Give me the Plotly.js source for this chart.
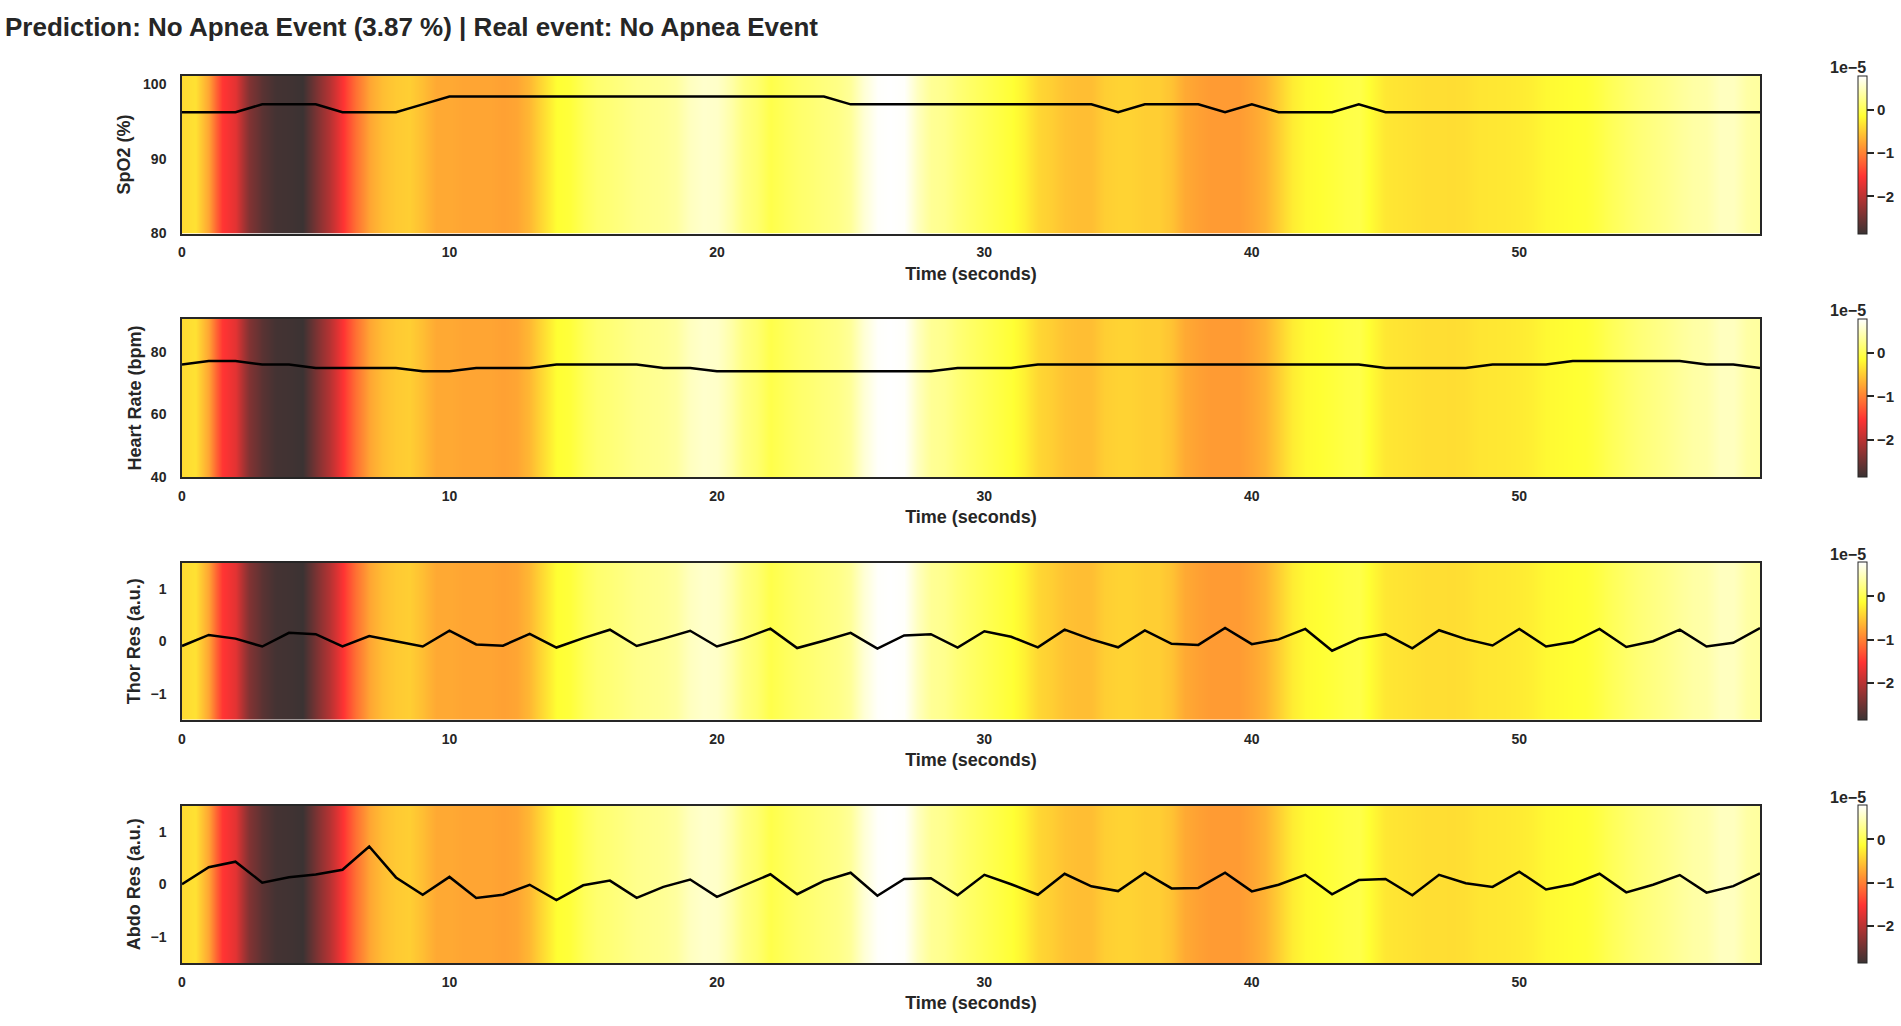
<!DOCTYPE html>
<html>
<head>
<meta charset="utf-8">
<script src="https://cdn.plot.ly/plotly-3.0.1.min.js"></script>
<style>
html, body { margin: 0; padding: 0; background: #fff; }
</style>
</head>
<body>
<div id="myDiv" style="width:1901px;height:1026px"></div>
<script>
var time = [];
for (var t = 0; t < 60; t++) { time.push(t); }

// attribution, in units of 1e-5, one value every half second
var attribution = [
    -0.38, -0.34, -0.75, -1.5, -1.72, -2.38, -2.65, -2.8, -2.82, -2.86,
    -2.45, -2.05, -1.55, -1.1, -0.75, -0.58, -0.5, -0.47, -0.58, -0.72,
    -0.72, -0.75, -0.75, -0.75, -0.78, -0.75, -0.62, -0.38, -0.14, -0.1,
    0.04, 0.13, 0.17, 0.22, 0.27, 0.29, 0.31, 0.36, 0.5, 0.56,
    0.54, 0.4, 0.22, 0.13, -0.03, 0.04, 0.11, 0.15, 0.2, 0.24,
    0.33, 0.6, 0.77, 0.79, 0.77, 0.5, 0.31, 0.27, 0.17, 0.09,
    0.02, -0.05, -0.12, -0.24, -0.41, -0.47, -0.55, -0.58, -0.58, -0.47,
    -0.44, -0.44, -0.47, -0.47, -0.55, -0.72, -0.78, -0.82, -0.82, -0.82,
    -0.75, -0.65, -0.47, -0.27, -0.17, -0.14, -0.1, -0.05, -0.03, -0.18,
    -0.3, -0.32, -0.34, -0.36, -0.36, -0.37, -0.35, -0.31, -0.3, -0.29,
    -0.27, -0.24, -0.18, -0.16, -0.14, -0.12, -0.05, 0.04, 0.11, 0.17,
    0.22, 0.27, 0.33, 0.38, 0.4, 0.5, 0.5, 0.38, 0.35
];

var spo2 = [
    96.2, 96.2, 96.2, 97.25, 97.25, 97.25, 96.2, 96.2, 96.2, 97.25,
    98.3, 98.3, 98.3, 98.3, 98.3, 98.3, 98.3, 98.3, 98.3, 98.3,
    98.3, 98.3, 98.3, 98.3, 98.3, 97.25, 97.25, 97.25, 97.25, 97.25,
    97.25, 97.25, 97.25, 97.25, 97.25, 96.2, 97.25, 97.25, 97.25, 96.2,
    97.25, 96.2, 96.2, 96.2, 97.25, 96.2, 96.2, 96.2, 96.2, 96.2,
    96.2, 96.2, 96.2, 96.2, 96.2, 96.2, 96.2, 96.2, 96.2, 96.2
];

var heartRate = [
    75.9, 77, 77, 75.9, 75.9, 74.8, 74.8, 74.8, 74.8, 73.7,
    73.7, 74.8, 74.8, 74.8, 75.9, 75.9, 75.9, 75.9, 74.8, 74.8,
    73.7, 73.7, 73.7, 73.7, 73.7, 73.7, 73.7, 73.7, 73.7, 74.8,
    74.8, 74.8, 75.9, 75.9, 75.9, 75.9, 75.9, 75.9, 75.9, 75.9,
    75.9, 75.9, 75.9, 75.9, 75.9, 74.8, 74.8, 74.8, 74.8, 75.9,
    75.9, 75.9, 77, 77, 77, 77, 77, 75.9, 75.9, 74.8
];

var thorRes = [
    -0.09, 0.12, 0.05, -0.1, 0.16, 0.135, -0.1, 0.1, 0, -0.1,
    0.2, -0.06, -0.085, 0.14, -0.12, 0.06, 0.22, -0.09, 0.05, 0.2,
    -0.1, 0.05, 0.24, -0.13, 0.01, 0.16, -0.14, 0.11, 0.135, -0.12,
    0.19, 0.085, -0.115, 0.22, 0.035, -0.115, 0.205, -0.05, -0.07, 0.255,
    -0.055, 0.035, 0.235, -0.18, 0.05, 0.135, -0.135, 0.21, 0.04, -0.08,
    0.235, -0.1, -0.015, 0.235, -0.11, 0, 0.22, -0.1, -0.03, 0.25
];

var abdoRes = [
    0, 0.325, 0.43, 0.03, 0.135, 0.185, 0.275, 0.72, 0.13, -0.2,
    0.14, -0.26, -0.2, -0.01, -0.3, -0.02, 0.07, -0.26, -0.05, 0.09,
    -0.24, -0.02, 0.19, -0.19, 0.065, 0.22, -0.22, 0.1, 0.115, -0.21,
    0.18, 0, -0.2, 0.2, -0.04, -0.13, 0.22, -0.08, -0.07, 0.22,
    -0.135, -0.01, 0.18, -0.19, 0.08, 0.1, -0.21, 0.18, 0.02, -0.05,
    0.24, -0.1, 0, 0.2, -0.155, -0.01, 0.175, -0.16, -0.035, 0.205
];

var series = [spo2, heartRate, thorRes, abdoRes];
var yTitles = ['SpO2 (%)', 'Heart Rate (bpm)', 'Thor Res (a.u.)', 'Abdo Res (a.u.)'];
var yRanges = [[80, 101.1], [40, 90.4], [-1.5, 1.5], [-1.5, 1.5]];
var yTicks = [[80, 90, 100], [40, 60, 80], [-1, 0, 1], [-1, 0, 1]];
var yTitleGaps = [8, 5, 5, 5];
var xTicks = [0, 10, 20, 30, 40, 50];
var cbTicks = [0, -1, -2];

var W = 1901, H = 1026;
var plotLeft = 182, plotRight = 1760;
var plotTops = [75.5, 319, 562.5, 805.5];
var plotBottoms = [233.5, 477, 720, 963];
var dark = '#262626';
var fontName = '"Liberation Sans", Arial, sans-serif';

// hot colormap at alpha 0.8 over white
var hotScale = [
    [0, 'rgb(59,51,51)'],
    [0.365, 'rgb(255,51,51)'],
    [0.746, 'rgb(255,255,51)'],
    [1, 'rgb(255,255,255)']
];

var data = [];
var layout = {
    width: W,
    height: H,
    margin: {l: 0, r: 0, t: 0, b: 0},
    paper_bgcolor: '#fff',
    plot_bgcolor: '#fff',
    showlegend: false,
    font: {family: fontName, color: dark},
    title: {
        text: '<b>Prediction: No Apnea Event (3.87 %) | Real event: No Apnea Event</b>',
        x: 5 / W,
        xanchor: 'left',
        y: 1 - 27 / H,
        yanchor: 'middle',
        font: {family: fontName, size: 26, color: dark}
    },
    annotations: []
};

for (var i = 0; i < series.length; i++) {
    var suffix = i === 0 ? '' : String(i + 1);

    data.push({
        type: 'heatmap',
        z: [attribution, attribution],
        x0: 0,
        dx: 0.5,
        y: yRanges[i],
        zsmooth: 'best',
        zmin: -2.86,
        zmax: 0.79,
        colorscale: hotScale,
        xaxis: 'x' + suffix,
        yaxis: 'y' + suffix,
        colorbar: {
            x: 1858 / W,
            xanchor: 'left',
            xref: 'paper',
            y: 1 - (plotTops[i] + plotBottoms[i]) / 2 / H,
            yanchor: 'middle',
            yref: 'paper',
            len: plotBottoms[i] - plotTops[i],
            lenmode: 'pixels',
            thickness: 9,
            thicknessmode: 'pixels',
            xpad: 0,
            ypad: 0,
            outlinecolor: dark,
            outlinewidth: 1,
            tickmode: 'array',
            tickvals: cbTicks,
            ticks: 'outside',
            ticklen: 7,
            tickwidth: 1.5,
            tickcolor: dark,
            tickfont: {family: fontName, size: 15, weight: 'bold', color: dark}
        }
    });

    data.push({
        type: 'scatter',
        mode: 'lines',
        x: time,
        y: series[i],
        xaxis: 'x' + suffix,
        yaxis: 'y' + suffix,
        line: {color: '#000', width: 2.5},
        hoverinfo: 'skip'
    });

    layout['xaxis' + suffix] = {
        domain: [plotLeft / W, plotRight / W],
        anchor: 'y' + suffix,
        range: [0, 59],
        tickmode: 'array',
        tickvals: xTicks,
        ticks: '',
        ticklabelstandoff: 5,
        tickfont: {family: fontName, size: 14, weight: 'bold', color: dark},
        showgrid: false,
        zeroline: false,
        showline: true,
        mirror: true,
        linecolor: dark,
        linewidth: 1.5,
        title: {
            text: '<b>Time (seconds)</b>',
            standoff: 8,
            font: {family: fontName, size: 18, color: dark}
        }
    };

    layout['yaxis' + suffix] = {
        domain: [1 - plotBottoms[i] / H, 1 - plotTops[i] / H],
        anchor: 'x' + suffix,
        range: yRanges[i],
        tickmode: 'array',
        tickvals: yTicks[i],
        ticks: '',
        ticklabelstandoff: 11,
        tickfont: {family: fontName, size: 14, weight: 'bold', color: dark},
        showgrid: false,
        zeroline: false,
        showline: true,
        mirror: true,
        linecolor: dark,
        linewidth: 1.5,
        title: {
            text: '<b>' + yTitles[i] + '</b>',
            standoff: yTitleGaps[i],
            font: {family: fontName, size: 18, color: dark}
        }
    };

    layout.annotations.push({
        text: '<b>1e\u22125</b>',
        xref: 'paper',
        yref: 'paper',
        x: 1848 / W,
        y: 1 - (plotTops[i] - 8) / H,
        xanchor: 'center',
        yanchor: 'middle',
        showarrow: false,
        font: {family: fontName, size: 16, color: dark}
    });
}

Plotly.newPlot('myDiv', data, layout, {displayModeBar: false});
</script>
</body>
</html>
